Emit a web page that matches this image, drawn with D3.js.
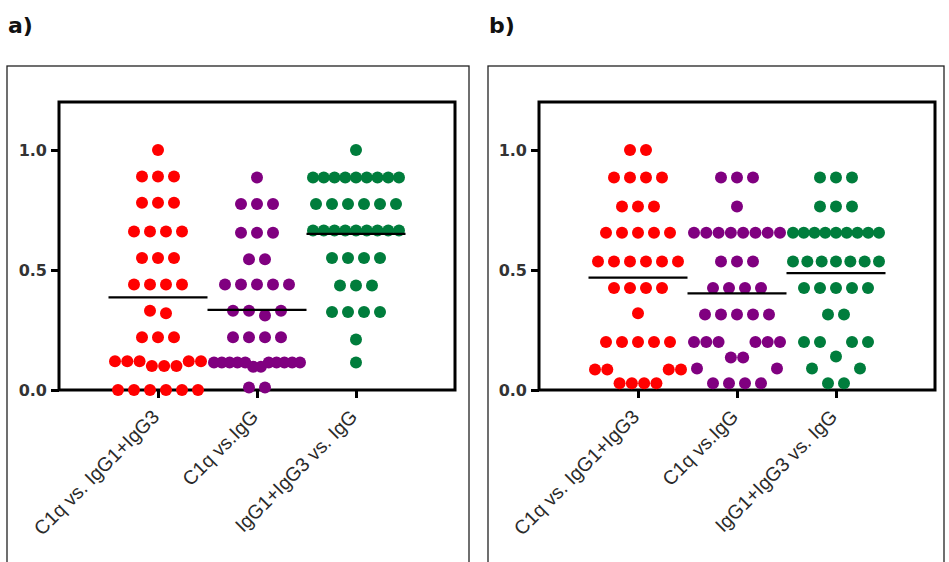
<!DOCTYPE html>
<html>
<head>
<meta charset="utf-8">
<script src="https://cdn.jsdelivr.net/npm/d3@7/dist/d3.min.js"></script>
<style>
  html, body { margin: 0; padding: 0; background: #fff; }
  svg { display: block; }
</style>
</head>
<body>
<svg id="chart" width="949" height="562"></svg>
<script>
// Comparison categories (x axis)
const categories = ["C1q vs. IgG1+IgG3", "C1q vs.IgG", "IgG1+IgG3 vs. IgG"];
const seriesColors = ["#ff0000", "#800080", "#007d3c"];
const yTicks = [0, 0.5, 1.0];
const panelLabels = ["a)", "b)"];

// Panel a values, one array per comparison
const panelA_C1qVsIgG13 = [
  1.0,
  0.89, 0.89, 0.89,
  0.78, 0.78, 0.78,
  0.66, 0.66, 0.66, 0.66,
  0.55, 0.55, 0.55,
  0.44, 0.44, 0.44, 0.44,
  0.33, 0.32,
  0.22, 0.22, 0.22,
  0.12, 0.12, 0.12, 0.12, 0.12, 0.10, 0.10, 0.10,
  0.0, 0.0, 0.0, 0.0, 0.0, 0.0
];
const panelA_C1qVsIgG = [
  0.885,
  0.775, 0.775, 0.775,
  0.655, 0.655, 0.655,
  0.545, 0.545,
  0.44, 0.44, 0.44, 0.44, 0.44,
  0.33, 0.33, 0.33, 0.31,
  0.22, 0.22, 0.22, 0.22,
  0.115, 0.115, 0.115, 0.115, 0.115, 0.115, 0.115, 0.115, 0.115, 0.115, 0.097, 0.097,
  0.01, 0.01
];
const panelA_IgG13VsIgG = [
  1.0,
  0.885, 0.885, 0.885, 0.885, 0.885, 0.885, 0.885, 0.885, 0.885,
  0.775, 0.775, 0.775, 0.775, 0.775, 0.775,
  0.665, 0.665, 0.665, 0.665, 0.665, 0.665, 0.665, 0.665, 0.665,
  0.55, 0.55, 0.55, 0.55,
  0.435, 0.435, 0.435,
  0.325, 0.325, 0.325, 0.325,
  0.21,
  0.115
];

// Panel b values
const panelB_C1qVsIgG13 = [
  1.0, 1.0,
  0.885, 0.885, 0.885, 0.885,
  0.765, 0.765, 0.765,
  0.655, 0.655, 0.655, 0.655, 0.655,
  0.535, 0.535, 0.535, 0.535, 0.535, 0.535,
  0.425, 0.425, 0.425, 0.425,
  0.32,
  0.2, 0.2, 0.2, 0.2, 0.2,
  0.085, 0.085, 0.085, 0.085,
  0.028, 0.028, 0.028, 0.028
];
const panelB_C1qVsIgG = [
  0.885, 0.885, 0.885,
  0.765,
  0.655, 0.655, 0.655, 0.655, 0.655, 0.655, 0.655, 0.655,
  0.535, 0.535, 0.535,
  0.425, 0.425, 0.425, 0.425,
  0.315, 0.315, 0.315, 0.315, 0.315,
  0.2, 0.2, 0.2, 0.2, 0.2, 0.2,
  0.135, 0.135,
  0.09, 0.09,
  0.028, 0.028, 0.028, 0.028
];
const panelB_IgG13VsIgG = [
  0.885, 0.885, 0.885,
  0.765, 0.765, 0.765,
  0.655, 0.655, 0.655, 0.655, 0.655, 0.655, 0.655, 0.655, 0.655,
  0.535, 0.535, 0.535, 0.535, 0.535, 0.535, 0.535,
  0.425, 0.425, 0.425, 0.425, 0.425,
  0.315, 0.315,
  0.2, 0.2, 0.2, 0.2,
  0.14,
  0.09, 0.09,
  0.028, 0.028
];

const panels = [
  { label: panelLabels[0], series: [panelA_C1qVsIgG13, panelA_C1qVsIgG, panelA_IgG13VsIgG],
    box: { x: 7, w: 462 }, frame: { x0: 59, x1: 455 } },
  { label: panelLabels[1], series: [panelB_C1qVsIgG13, panelB_C1qVsIgG, panelB_IgG13VsIgG],
    box: { x: 488, w: 456 }, frame: { x0: 539, x1: 935 } }
];

const frameTop = 102, frameBottom = 390;
const dotR = 6;
const maxGap = 16;       // widest spacing between neighbouring dots in a row
const rowWidth = 86;     // widest a row may spread
const binDepth = 0.075;  // values closer than this share a row

// Scatter-dot layout: values that are close share a row; the lowest
// value of a row sits in its centre and the others fan outwards.
function scatterLayout(values) {
  const desc = values.slice().sort((a, b) => b - a);
  const bins = [];
  desc.forEach(v => {
    const last = bins[bins.length - 1];
    if (last && last.top - v < binDepth) last.vals.push(v);
    else bins.push({ top: v, vals: [v] });
  });
  const pts = [];
  bins.forEach(bin => {
    const n = bin.vals.length;
    const gap = n > 1 ? Math.min(maxGap, rowWidth / (n - 1)) : 0;
    const first = Math.floor(n / 2);
    const order = [first];
    for (let k = 1; order.length < n; k++) {
      if (first - k >= 0) order.push(first - k);
      if (order.length < n && first + k < n) order.push(first + k);
    }
    const asc = bin.vals.slice().sort((a, b) => a - b);
    asc.forEach((v, i) => pts.push({ value: v, dx: (order[i] - (n - 1) / 2) * gap }));
  });
  return pts;
}

const svg = d3.select("#chart");
svg.append("rect").attr("width", 949).attr("height", 562).attr("fill", "#fff");

const y = d3.scaleLinear().domain([0, 1.2]).range([frameBottom, frameTop]);

panels.forEach(p => {
  const g = svg.append("g");

  // panel letter
  g.append("text")
    .attr("x", p.box.x + 1).attr("y", 33)
    .attr("font-family", "DejaVu Sans, sans-serif")
    .attr("font-weight", "bold").attr("font-size", 22)
    .attr("fill", "#111")
    .text(p.label);

  // outer panel border
  g.append("rect")
    .attr("x", p.box.x).attr("y", 66)
    .attr("width", p.box.w).attr("height", 520)
    .attr("fill", "none").attr("stroke", "#222").attr("stroke-width", 1.3);

  const x = d3.scalePoint().domain(categories)
    .range([p.frame.x0, p.frame.x1]).padding(1);
  const halfStep = x.step() / 2;

  // plot frame
  g.append("rect")
    .attr("x", p.frame.x0).attr("y", frameTop)
    .attr("width", p.frame.x1 - p.frame.x0).attr("height", frameBottom - frameTop)
    .attr("fill", "none").attr("stroke", "#000").attr("stroke-width", 3);

  // y axis
  const yAxis = g.append("g")
    .attr("transform", `translate(${p.frame.x0},0)`)
    .call(d3.axisLeft(y).tickValues(yTicks).tickFormat(d3.format(".1f")).tickSize(8).tickPadding(4));
  yAxis.select(".domain").remove();
  yAxis.selectAll(".tick line").attr("stroke", "#000").attr("stroke-width", 3);
  yAxis.selectAll(".tick text")
    .attr("font-family", "DejaVu Sans, sans-serif")
    .attr("font-weight", "bold").attr("font-size", 16)
    .attr("fill", "#333");

  // x axis
  const xAxis = g.append("g")
    .attr("transform", `translate(0,${frameBottom})`)
    .call(d3.axisBottom(x).tickSize(8));
  xAxis.select(".domain").remove();
  xAxis.selectAll(".tick line").attr("stroke", "#000").attr("stroke-width", 3);
  xAxis.selectAll(".tick text")
    .attr("font-family", "Liberation Sans, Arial, sans-serif")
    .attr("font-size", 19.5)
    .attr("fill", "#2a2a2a")
    .attr("text-anchor", "end")
    .attr("x", 0).attr("y", 0).attr("dy", 0)
    .attr("transform", "translate(2,28) rotate(-45)");

  // dots and mean lines
  p.series.forEach((vals, i) => {
    const cx = x(categories[i]);
    const pts = scatterLayout(vals);
    g.append("g").selectAll("circle").data(pts).join("circle")
      .attr("cx", d => cx + d.dx)
      .attr("cy", d => y(d.value))
      .attr("r", dotR)
      .attr("fill", seriesColors[i]);
    const m = d3.mean(vals);
    g.append("line")
      .attr("x1", cx - halfStep).attr("x2", cx + halfStep)
      .attr("y1", y(m)).attr("y2", y(m))
      .attr("stroke", "#000").attr("stroke-width", 2.2);
  });
});
</script>
</body>
</html>
